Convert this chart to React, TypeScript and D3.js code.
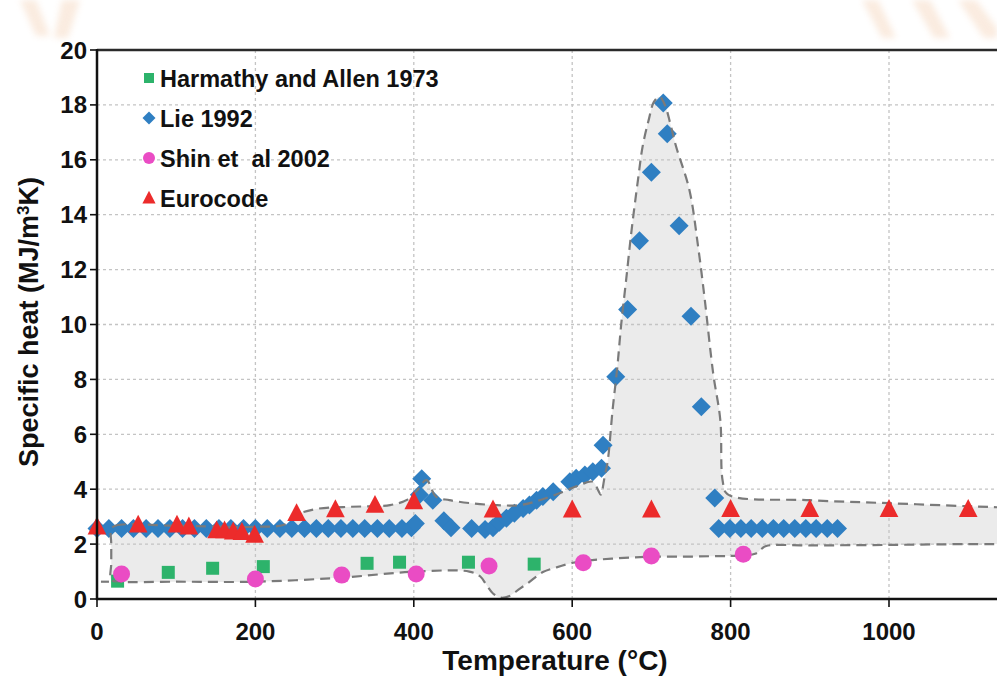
import React from "react";
import * as d3 from "d3";

// ---------- data ----------
const xTicks = [0, 200, 400, 600, 800, 1000];
const yTicks = [0, 2, 4, 6, 8, 10, 12, 14, 16, 18, 20];

const harmathyT = [26, 90, 146, 210, 341, 382, 469, 552];
const harmathyV = [0.65, 0.97, 1.12, 1.18, 1.3, 1.34, 1.34, 1.27];

const lieT = [0, 15, 31, 46, 62, 77, 92, 108, 123, 138, 154, 169, 185, 200, 215, 231, 246, 262, 277, 292, 308, 323, 338, 354, 369, 385,
  397, 402, 407, 410, 424, 438, 447, 473, 490, 500, 508, 517, 527, 538, 546, 555, 563, 576, 597, 605, 616, 626, 637, 639,
  655, 670, 685, 700, 715, 720, 735, 750, 763, 780,
  785, 799, 813, 826, 840, 854, 867, 881, 895, 908, 922, 935];
const lieV = [2.57, 2.57, 2.57, 2.57, 2.57, 2.57, 2.57, 2.57, 2.57, 2.57, 2.57, 2.57, 2.57, 2.57, 2.57, 2.57, 2.57, 2.57, 2.57, 2.57, 2.57, 2.57, 2.57, 2.57, 2.57, 2.57,
  2.6, 2.75, 3.8, 4.38, 3.6, 2.85, 2.6, 2.57, 2.53, 2.6, 2.8, 2.94, 3.12, 3.3, 3.42, 3.6, 3.73, 3.91, 4.27, 4.4, 4.52, 4.64, 4.76, 5.6,
  8.1, 10.55, 13.05, 15.55, 18.07, 16.95, 13.6, 10.3, 7.0, 3.68,
  2.57, 2.57, 2.57, 2.57, 2.57, 2.57, 2.57, 2.57, 2.57, 2.57, 2.57, 2.57];

const shinT = [31, 200, 309, 403, 495, 614, 700, 816];
const shinV = [0.91, 0.73, 0.87, 0.91, 1.2, 1.32, 1.57, 1.63];

const euroT = [0, 52, 101, 116, 151, 161, 172, 183, 199, 252, 301, 351, 400, 500, 600, 700, 800, 900, 1000, 1100];
const euroV = [2.63, 2.7, 2.7, 2.63, 2.49, 2.49, 2.45, 2.43, 2.33, 3.12, 3.26, 3.42, 3.55, 3.25, 3.25, 3.25, 3.27, 3.27, 3.27, 3.27];

// envelope (upper boundary left->right, lower boundary right->left)
const envUpperT = [18, 24, 100, 200, 238, 252, 277, 320, 370, 392, 404, 416, 428, 445, 475, 505, 534, 559, 588, 609, 626, 633, 636, 641, 645, 651, 657, 662, 668, 675, 683, 689, 697, 703, 710, 717, 724, 731, 748, 759, 767, 778, 787, 790, 796, 900, 1000, 1100, 1150, 1250];
const envUpperV = [2.55, 2.68, 2.67, 2.63, 2.72, 3.06, 3.28, 3.36, 3.42, 3.62, 3.95, 4.33, 3.73, 3.6, 3.48, 3.42, 3.42, 3.6, 3.9, 4.15, 4.27, 3.95, 3.8, 4.46, 5.06, 6.89, 8.46, 10.04, 11.6, 13.44, 15.26, 16.5, 17.5, 18.1, 18.3, 18.0, 17.3, 16.5, 14.9, 12.83, 11.0, 8.22, 6.52, 4.3, 3.82, 3.6, 3.49, 3.38, 3.33, 3.25];
const envLowerT = [1250, 1150, 1100, 1000, 900, 845, 838, 832, 760, 700, 650, 620, 601, 580, 563, 545, 534, 520, 510, 500, 492, 484, 470, 403, 309, 200, 100, 30, 18, 18, 18];
const envLowerV = [2.02, 2.0, 2.0, 1.97, 1.95, 1.93, 1.8, 1.66, 1.55, 1.54, 1.47, 1.4, 1.32, 1.15, 0.98, 0.6, 0.38, 0.1, 0.05, 0.2, 0.5, 0.82, 1.0, 1.0, 0.78, 0.63, 0.63, 0.63, 0.7, 1.3, 2.0];

const legendLabels = ["Harmathy and Allen 1973", "Lie 1992", "Shin et  al 2002", "Eurocode"];
const colors = { harmathy: "#2db36b", lie: "#2f7fc2", shin: "#ea4cc4", euro: "#ec2b2b" };

// ---------- layout ----------
const W = 997, H = 677;
const x = d3.scaleLinear().domain([0, 1000]).range([97, 889]);
const y = d3.scaleLinear().domain([0, 20]).range([599, 50]);
const FONT = "'Liberation Sans', Arial, Helvetica, sans-serif";

const diamond = (cx: number, cy: number, r: number) => `M${cx},${cy - r}L${cx + r},${cy}L${cx},${cy + r}L${cx - r},${cy}Z`;
const triangle = (cx: number, cy: number, s: number) => `M${cx},${cy - s * 0.6}L${cx + s * 0.55},${cy + s * 0.45}L${cx - s * 0.55},${cy + s * 0.45}Z`;

export default function App() {
  const envPts: [number, number][] = [
    ...envUpperT.map((t, i) => [x(t), y(envUpperV[i])] as [number, number]),
    ...envLowerT.map((t, i) => [x(t), y(envLowerV[i])] as [number, number]),
  ];
  const envPath = d3.line().curve(d3.curveCatmullRomClosed.alpha(0.5))(envPts) || "";
  const x0 = x.range()[0];
  const xEnd = W;

  return (
    <svg width={W} height={H} style={{ position: "absolute", left: 0, top: 0, background: "#fff" }} fontFamily={FONT}>
      {/* faint watermark fragments */}
      <defs>
        <filter id="blur" x="-20%" y="-20%" width="140%" height="140%">
          <feGaussianBlur stdDeviation="3" />
        </filter>
        <clipPath id="plotClip">
          <rect x={x0} y={50} width={xEnd - x0} height={549} />
        </clipPath>
      </defs>
      <g fill="#f2c8a6" opacity={0.35} filter="url(#blur)">
        <path d="M20,0 L36,0 L50,36 L36,36 Z" />
        <path d="M62,0 L80,0 L68,38 L54,38 Z" />
        <path d="M862,0 L878,0 L896,38 L882,38 Z" />
        <path d="M912,0 L930,0 L950,38 L934,38 Z" />
        <path d="M958,0 L976,0 L997,28 L997,38 L984,38 Z" />
      </g>

      {/* envelope fill */}
      <path d={envPath} fill="#ebebeb" stroke="none" clipPath="url(#plotClip)" />

      {/* grid */}
      <g stroke="#c4c4c4" strokeWidth={1.3} strokeDasharray="3,3">
        {xTicks.filter((t) => t > 0).map((t) => (
          <line key={"gx" + t} x1={x(t)} x2={x(t)} y1={50} y2={599} />
        ))}
        {yTicks.filter((t) => t > 0 && t < 20).map((t) => (
          <line key={"gy" + t} x1={x0} x2={xEnd} y1={y(t)} y2={y(t)} />
        ))}
      </g>

      {/* Harmathy squares */}
      <g fill={colors.harmathy}>
        {harmathyT.map((t, i) => (
          <rect key={"h" + i} x={x(t) - 6.5} y={y(harmathyV[i]) - 6.5} width={13} height={13} />
        ))}
      </g>

      {/* Lie diamonds */}
      <g fill={colors.lie}>
        {lieT.map((t, i) => (
          <path key={"l" + i} d={diamond(x(t), y(lieV[i]), 9.5)} />
        ))}
      </g>

      {/* envelope outline */}
      <path d={envPath} fill="none" stroke="#7a7a7a" strokeWidth={2.2} strokeDasharray="10,6" clipPath="url(#plotClip)" />
      <line x1={x(5)} x2={x(18)} y1={y(0.63)} y2={y(0.63)} stroke="#7a7a7a" strokeWidth={2.2} strokeDasharray="8,4" />

      {/* Shin circles */}
      <g fill={colors.shin}>
        {shinT.map((t, i) => (
          <circle key={"s" + i} cx={x(t)} cy={y(shinV[i])} r={8.5} />
        ))}
      </g>

      {/* Eurocode triangles */}
      <g fill={colors.euro}>
        {euroT.map((t, i) => (
          <path key={"e" + i} d={triangle(x(t), y(euroV[i]), 17)} />
        ))}
      </g>

      {/* axes */}
      <line x1={x0} x2={xEnd} y1={50} y2={50} stroke="#2a2a2a" strokeWidth={2.5} />
      <line x1={x0} x2={x0} y1={49} y2={600} stroke="#111" strokeWidth={2.5} />
      <line x1={x0 - 1} x2={xEnd} y1={599} y2={599} stroke="#111" strokeWidth={2.5} />

      <g stroke="#111" strokeWidth={1.6}>
        {yTicks.map((t) => (
          <line key={"yt" + t} x1={x0 - 7} x2={x0} y1={y(t)} y2={y(t)} />
        ))}
        {xTicks.map((t) => (
          <line key={"xt" + t} x1={x(t)} x2={x(t)} y1={599} y2={607} />
        ))}
      </g>

      <g fontSize={24} fontWeight="bold" fill="#111" textAnchor="end">
        {yTicks.map((t) => (
          <text key={"yl" + t} x={87} y={y(t) + 8.5}>{t}</text>
        ))}
      </g>
      <g fontSize={24} fontWeight="bold" fill="#111" textAnchor="middle">
        {xTicks.map((t) => (
          <text key={"xl" + t} x={x(t)} y={640}>{t}</text>
        ))}
      </g>

      <text x={555} y={670} textAnchor="middle" fontSize={28} fontWeight="bold" fill="#111">Temperature (°C)</text>
      <text transform="translate(38,322) rotate(-90)" textAnchor="middle" fontSize={27} fontWeight="bold" fill="#111">
        Specific heat (MJ/m<tspan dy={-9} fontSize={17}>3</tspan><tspan dy={9}>K)</tspan>
      </text>

      {/* legend */}
      <g fontSize={23.5} fontWeight="bold" fill="#111">
        {legendLabels.map((lab, i) => {
          const cy = 78 + i * 40;
          const cx = 149;
          let marker;
          if (i === 0) marker = <rect x={cx - 5} y={cy - 5} width={10} height={10} fill={colors.harmathy} />;
          else if (i === 1) marker = <path d={diamond(cx, cy, 6.5)} fill={colors.lie} />;
          else if (i === 2) marker = <circle cx={cx} cy={cy} r={6} fill={colors.shin} />;
          else marker = <path d={triangle(cx, cy, 12)} fill={colors.euro} />;
          return (
            <g key={"lg" + i}>
              {marker}
              <text x={160} y={cy + 8.5} xmlSpace="preserve">{lab}</text>
            </g>
          );
        })}
      </g>
    </svg>
  );
}
